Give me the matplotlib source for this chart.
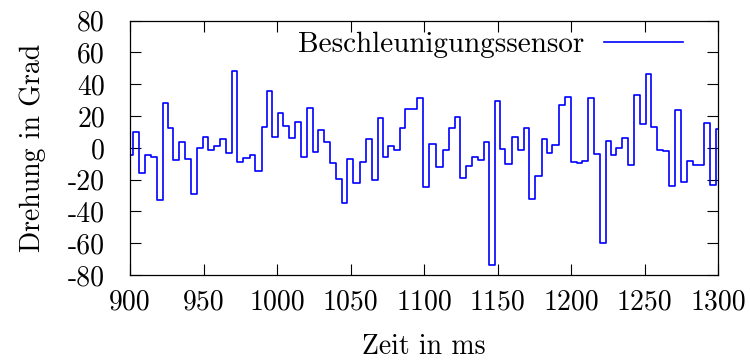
import matplotlib
matplotlib.use("Agg")
import matplotlib.pyplot as plt

# segment start times (ms) and sensor values (deg)
t_ms = [900.0, 902.3, 906.1, 910.2, 914.3, 918.1, 922.2, 925.6, 929.5, 933.3,
        937.4, 941.3, 945.4, 949.5, 953.3, 957.4, 961.2, 965.3, 969.6, 973.0,
        977.1, 981.6, 985.3, 989.6, 993.0, 996.8, 1000.9, 1004.3, 1008.4, 1012.2,
        1016.1, 1020.6, 1024.3, 1028.1, 1032.0, 1036.0, 1040.1, 1044.0, 1047.8, 1051.9,
        1056.5, 1060.5, 1064.9, 1068.9, 1072.3, 1075.7, 1079.6, 1083.7, 1087.3, 1095.5,
        1099.5, 1103.6, 1108.4, 1112.9, 1116.8, 1120.8, 1124.7, 1128.7, 1132.8, 1136.6,
        1140.5, 1144.5, 1148.6, 1151.9, 1155.2, 1159.6, 1163.7, 1167.7, 1171.6, 1175.7,
        1180.1, 1183.8, 1187.4, 1191.5, 1195.7, 1199.9, 1204.3, 1207.8, 1211.8, 1215.6,
        1219.8, 1223.7, 1227.0, 1230.7, 1234.6, 1238.7, 1242.9, 1246.9, 1250.8, 1254.6,
        1258.7, 1262.8, 1266.7, 1271.0, 1274.8, 1278.9, 1282.8, 1286.6, 1290.7, 1294.8,
        1298.4, 1300.0]
drehung = [-4.5, 9.7, -15.7, -4.5, -5.5, -32.9, 28.4, 12.3, -7.7, 3.9,
           -7.3, -29.0, 0.0, 7.0, -1.4, 1.3, 5.3, -3.0, 48.3, -8.7,
           -6.3, -4.3, -14.8, 13.3, 35.9, 7.0, 22.1, 13.5, 6.3, 16.4,
           -5.6, 24.9, -2.5, 11.2, 3.6, -9.8, -19.8, -34.5, -7.2, -22.3,
           -9.2, 5.8, -20.1, 18.6, -5.6, 1.3, -1.4, 12.3, 24.2, 31.1,
           -24.9, 2.3, -11.9, -1.4, 12.3, 19.2, -19.2, -11.7, -6.0, -7.9,
           3.4, -73.8, 29.5, -1.0, -10.2, 7.0, -1.6, 12.8, -31.9, -17.6,
           5.3, -3.5, 1.8, 26.9, 32.2, -9.1, -9.3, -8.0, 31.1, -4.0,
           -59.9, 4.5, -4.5, 0.1, 5.9, -10.8, 33.5, 15.2, 46.4, 13.1,
           -1.4, -1.7, -23.8, 23.8, -21.3, -8.2, -11.0, -10.8, 15.9, -23.6,
           11.8, 11.8]

x_ticks = [900, 950, 1000, 1050, 1100, 1150, 1200, 1250, 1300]
y_ticks = [-80, -60, -40, -20, 0, 20, 40, 60, 80]

plt.rcParams['font.family'] = ['cmr10', 'DejaVu Serif']
plt.rcParams['axes.unicode_minus'] = False
plt.rcParams['mathtext.fontset'] = 'cm'

FS = 20

fig = plt.figure(figsize=(7.5, 3.61), dpi=100)
ax = fig.add_axes([130/750, 1-275/361, 588/750, (275-20.7)/361])

ax.step(t_ms, drehung, where='post', color='#0000ff', lw=1.2,
        label='Beschleunigungssensor')

ax.set_xlim(900, 1300)
ax.set_ylim(-80, 80)
ax.set_xticks(x_ticks)
ax.set_yticks(y_ticks)
ax.set_xticklabels([str(v) for v in x_ticks])
ax.set_yticklabels([str(v) for v in y_ticks])
ax.tick_params(direction='in', length=8, width=0.8, top=True, right=True,
               labelsize=FS, colors='black')
ax.tick_params(axis='y', pad=18)
ax.tick_params(axis='x', pad=10)
for s in ax.spines.values():
    s.set_linewidth(0.9)

ax.set_xlabel('Zeit in ms', fontsize=FS, labelpad=13)
ax.set_ylabel('Drehung in Grad', fontsize=FS, labelpad=16)

ax.legend(loc='upper right', bbox_to_anchor=(0.9405, 0.957), frameon=False,
          markerfirst=False, handlelength=2.7, fontsize=21, borderpad=0,
          borderaxespad=0, handletextpad=0.68)

fig.savefig('out.png', dpi=100)
